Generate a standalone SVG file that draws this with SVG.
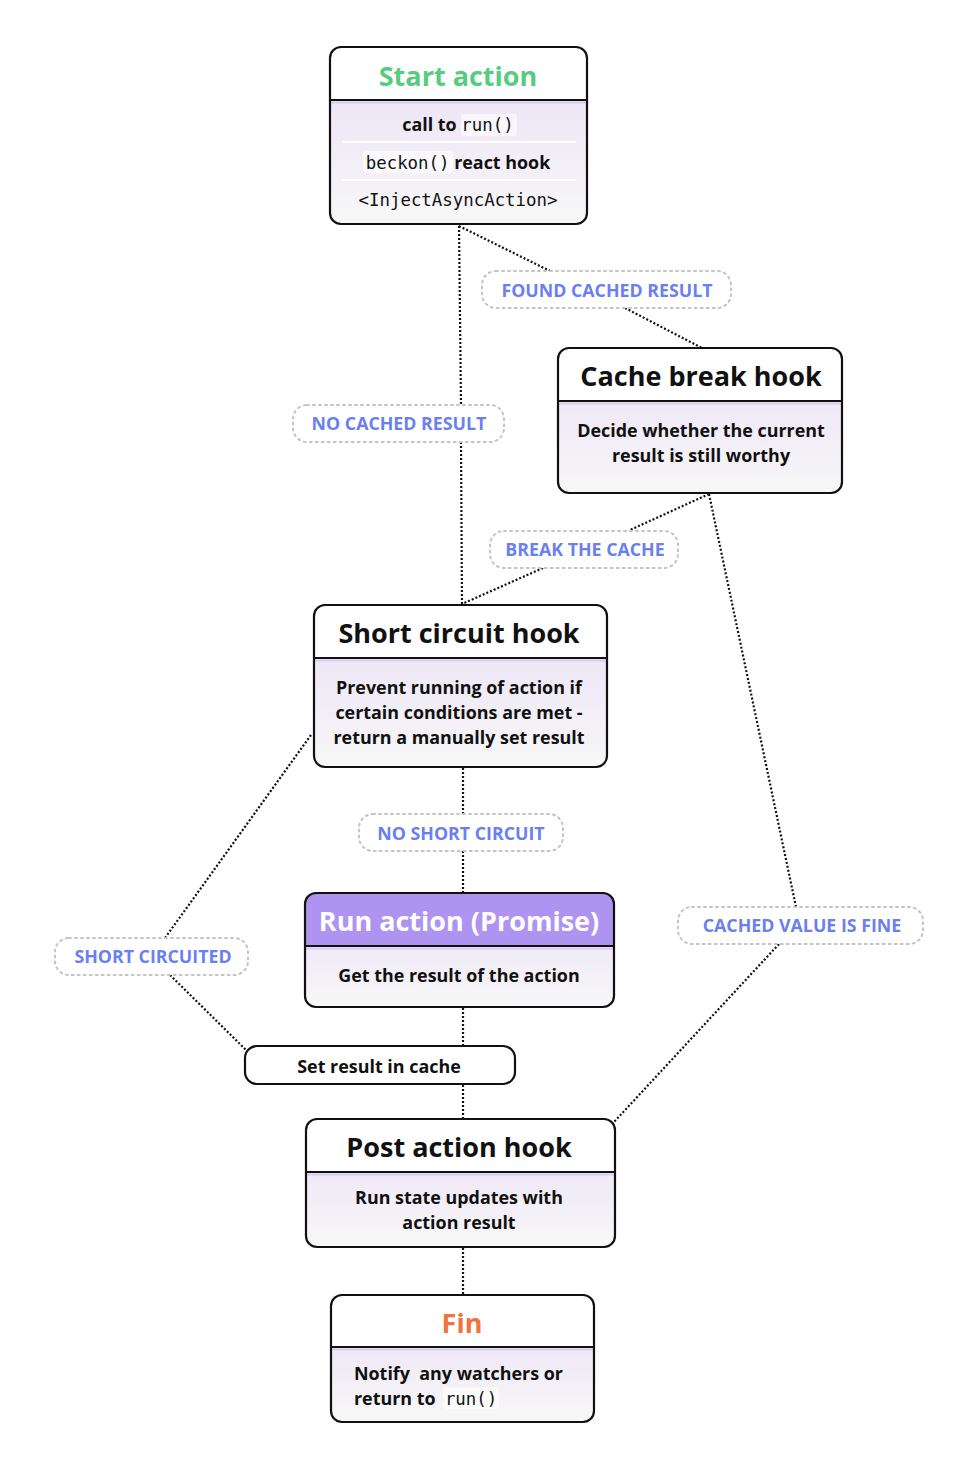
<svg xmlns="http://www.w3.org/2000/svg" width="979" height="1471" viewBox="0 0 979 1471">
<style>
.box{fill:none;stroke:#111;stroke-width:2.2}
.body{fill:url(#bg);stroke:none}
.hdr{fill:#fff}
.hdrp{fill:#ae94f0}
.div{stroke:#111;stroke-width:2.2}
.hl{stroke:#d9cdef;stroke-width:2}
.sep{stroke:#fff;stroke-width:2}
.title{font-family:"Open Sans","DejaVu Sans",sans-serif;font-weight:700;font-size:27px;fill:#111;text-anchor:middle}
.txt{font-family:"Open Sans","DejaVu Sans",sans-serif;font-weight:700;font-size:17.9px;fill:#111;text-anchor:middle}
.mono{font-family:"DejaVu Sans Mono","Liberation Mono",monospace;font-weight:400;font-size:17.4px}
.code{fill:#fff;opacity:0.6}
.lbl{fill:#fff;stroke:#c4c4c4;stroke-width:2;stroke-dasharray:2 4;stroke-linecap:round}
.lt{font-family:"Open Sans","DejaVu Sans",sans-serif;font-weight:700;font-size:17.8px;fill:#6a7ff1;text-anchor:middle}
.con{fill:none;stroke:#111;stroke-width:2.2;stroke-dasharray:2 2}
</style>
<defs>
<linearGradient id="bg" x1="0" y1="0" x2="0" y2="1">
<stop offset="0" stop-color="#e9dff6"/>
<stop offset="1" stop-color="#f7f7f7"/>
</linearGradient>
</defs>
<rect width="979" height="1471" fill="#fff"/>

<g id="connectors">
<path class="con" d="M459 226 L461 405"/>
<path class="con" d="M461 442 L462 604"/>
<path class="con" d="M459 226 L550 271"/>
<path class="con" d="M625 308 L702 348"/>
<path class="con" d="M709 494 L630 530"/>
<path class="con" d="M543 568 L462 604"/>
<path class="con" d="M709 494 L796 907"/>
<path class="con" d="M779 944 L614 1122"/>
<path class="con" d="M311 735 L165 938"/>
<path class="con" d="M170 975 L246 1050"/>
<path class="con" d="M463 768 L463 814"/>
<path class="con" d="M463 851 L463 893"/>
<path class="con" d="M463 1008 L463 1046"/>
<path class="con" d="M463 1085 L463 1119"/>
<path class="con" d="M463 1248 L463 1295"/>
</g>

<g id="label-found">
<rect class="lbl" x="482" y="271" width="249" height="37" rx="14"/>
<text class="lt" x="607" y="297">FOUND CACHED RESULT</text>
</g>
<g id="label-nocached">
<rect class="lbl" x="293" y="405" width="211" height="37" rx="14"/>
<text class="lt" x="399" y="430">NO CACHED RESULT</text>
</g>
<g id="label-break">
<rect class="lbl" x="490" y="531" width="188" height="37" rx="14"/>
<text class="lt" x="585" y="556">BREAK THE CACHE</text>
</g>
<g id="label-noshort">
<rect class="lbl" x="359" y="814" width="204" height="37" rx="14"/>
<text class="lt" x="461" y="840">NO SHORT CIRCUIT</text>
</g>
<g id="label-shorted">
<rect class="lbl" x="55" y="938" width="193" height="37" rx="14"/>
<text class="lt" x="153" y="963">SHORT CIRCUITED</text>
</g>
<g id="label-fine">
<rect class="lbl" x="678" y="907" width="245" height="37" rx="14"/>
<text class="lt" x="802" y="932">CACHED VALUE IS FINE</text>
</g>

<g id="start">
<rect class="body" x="330" y="47" width="257" height="177" rx="11"/>
<path class="hdr" d="M330 100 V58 Q330 47 341 47 H576 Q587 47 587 58 V100 Z"/>
<line class="hl" x1="331" y1="102.5" x2="586" y2="102.5"/>
<line class="div" x1="330" y1="100" x2="587" y2="100"/>
<line class="sep" x1="342" y1="142" x2="576" y2="142"/>
<line class="sep" x1="342" y1="180" x2="576" y2="180"/>
<rect class="box" x="330" y="47" width="257" height="177" rx="11"/>
<text class="title" x="458" y="86" style="fill:#57cc7f">Start action</text>
<rect class="code" x="461" y="114" width="56" height="22" rx="3"/>
<text class="txt" x="458" y="131">call to <tspan class="mono">run()</tspan></text>
<rect class="code" x="363" y="151" width="90" height="22" rx="3"/>
<text class="txt" x="458" y="169"><tspan class="mono">beckon()</tspan> react hook</text>
<text class="txt mono" x="458" y="206">&lt;InjectAsyncAction&gt;</text>
</g>

<g id="cache-break">
<rect class="body" x="558" y="348" width="284" height="145" rx="11"/>
<path class="hdr" d="M558 401 V359 Q558 348 569 348 H831 Q842 348 842 359 V401 Z"/>
<line class="hl" x1="559" y1="403.5" x2="841" y2="403.5"/>
<line class="div" x1="558" y1="401" x2="842" y2="401"/>
<rect class="box" x="558" y="348" width="284" height="145" rx="11"/>
<text class="title" x="701" y="386">Cache break hook</text>
<text class="txt" x="701" y="437">Decide whether the current</text>
<text class="txt" x="701" y="462">result is still worthy</text>
</g>

<g id="short-circuit">
<rect class="body" x="314" y="605" width="293" height="162" rx="11"/>
<path class="hdr" d="M314 658 V616 Q314 605 325 605 H596 Q607 605 607 616 V658 Z"/>
<line class="hl" x1="315" y1="660.5" x2="606" y2="660.5"/>
<line class="div" x1="314" y1="658" x2="607" y2="658"/>
<rect class="box" x="314" y="605" width="293" height="162" rx="11"/>
<text class="title" x="459" y="643">Short circuit hook</text>
<text class="txt" x="459" y="694">Prevent running of action if</text>
<text class="txt" x="459" y="719">certain conditions are met -</text>
<text class="txt" x="459" y="744">return a manually set result</text>
</g>

<g id="run-action">
<rect class="body" x="305" y="893" width="309" height="114" rx="11"/>
<path class="hdrp" d="M305 946 V904 Q305 893 316 893 H603 Q614 893 614 904 V946 Z"/>
<line class="hl" x1="306" y1="948.5" x2="613" y2="948.5"/>
<line class="div" x1="305" y1="946" x2="614" y2="946"/>
<rect class="box" x="305" y="893" width="309" height="114" rx="11"/>
<text class="title" x="459" y="931" style="fill:#fff">Run action (Promise)</text>
<text class="txt" x="459" y="982">Get the result of the action</text>
</g>

<g id="set-cache">
<rect x="245" y="1046" width="270" height="38" rx="12" fill="#fff" stroke="#111" stroke-width="2.2"/>
<text class="txt" x="379" y="1073">Set result in cache</text>
</g>

<g id="post-action">
<rect class="body" x="306" y="1119" width="309" height="128" rx="11"/>
<path class="hdr" d="M306 1172 V1130 Q306 1119 317 1119 H604 Q615 1119 615 1130 V1172 Z"/>
<line class="hl" x1="307" y1="1174.5" x2="614" y2="1174.5"/>
<line class="div" x1="306" y1="1172" x2="615" y2="1172"/>
<rect class="box" x="306" y="1119" width="309" height="128" rx="11"/>
<text class="title" x="459" y="1157">Post action hook</text>
<text class="txt" x="459" y="1204">Run state updates with</text>
<text class="txt" x="459" y="1229">action result</text>
</g>

<g id="fin">
<rect class="body" x="331" y="1295" width="263" height="127" rx="11"/>
<path class="hdr" d="M331 1347 V1306 Q331 1295 342 1295 H583 Q594 1295 594 1306 V1347 Z"/>
<line class="hl" x1="332" y1="1349.5" x2="593" y2="1349.5"/>
<line class="div" x1="331" y1="1347" x2="594" y2="1347"/>
<rect class="box" x="331" y="1295" width="263" height="127" rx="11"/>
<text class="title" x="462" y="1333" style="fill:#f07340">Fin</text>
<text class="txt" x="354" y="1380" style="text-anchor:start" xml:space="preserve">Notify  any watchers or</text>
<rect class="code" x="443" y="1387" width="56" height="22" rx="3"/>
<text class="txt" x="354" y="1405" style="text-anchor:start" xml:space="preserve">return to  <tspan class="mono">run()</tspan></text>
</g>
</svg>
